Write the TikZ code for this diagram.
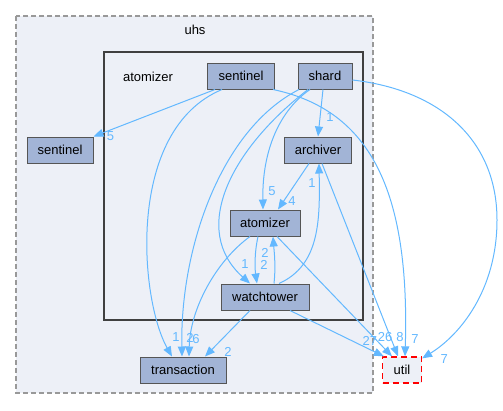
\documentclass[tikz,border=0pt]{standalone}
\usepackage{fontspec}
\setmainfont{Liberation Sans}
\usetikzlibrary{arrows.meta}
\definecolor{dirfill}{HTML}{A2B4D6}
\definecolor{dirline}{HTML}{555555}
\definecolor{clusterfill}{HTML}{EDF0F7}
\definecolor{clusterline}{HTML}{999999}
\definecolor{innerline}{HTML}{404040}
\definecolor{depblue}{HTML}{63B8FF}
\definecolor{extred}{HTML}{FF0000}

\begin{document}
\begin{tikzpicture}[
	x=1pt, y=-1pt
	,font=\fontsize{13}{15}\selectfont
	,n/.style={draw=dirline, fill=dirfill, line width=1pt, minimum height=26pt, inner sep=0pt}
	,ext/.style={draw=extred, fill=clusterfill, line width=1.3pt, dash pattern=on 6pt off 4pt, minimum height=26pt, inner sep=0pt}
	,dep/.style={draw=depblue, line width=1pt, -{Triangle[length=10pt,width=8pt]}}
	,lbl/.style={text=depblue, inner sep=0pt}
]
	\useasboundingbox (0,0) rectangle (503,410);

	\draw[clusterline, fill=clusterfill, line width=1.5pt, dash pattern=on 5pt off 3pt] (16,16) rectangle (373,393);
	\node (uhs) at (195,30) {uhs};
	\draw[innerline, fill=clusterfill, line width=2pt] (104,52) rectangle (363,320);
	\node (atomizerdir) at (148,77) {atomizer};

	\node[n, minimum width=67pt] (sentinelA) at (241,76) {sentinel};
	\node[n, minimum width=54pt] (shard) at (325,76) {shard};
	\node[n, minimum width=66pt] (sentinelB) at (60,150) {sentinel};
	\node[n, minimum width=67pt] (archiver) at (318,150) {archiver};
	\node[n, minimum width=70pt] (atomizer) at (265,223) {atomizer};
	\node[n, minimum width=88pt] (watchtower) at (265,297) {watchtower};
	\node[n, minimum width=86pt] (transaction) at (183,370) {transaction};
	\node[ext, minimum width=39pt] (util) at (402,370) {util};

	\draw[dep] ([xshift=-26pt]sentinelA.south) -- (sentinelB.north east)
		node[lbl, pos=1, xshift=17pt] {5};
	\draw[dep] ([xshift=-19pt]sentinelA.south) .. controls (125,130) and (140,300) .. ([xshift=-11pt]transaction.north)
		node[lbl, pos=1, xshift=4pt, yshift=19pt] {1};
	\draw[dep] ([xshift=32pt]sentinelA.south) .. controls (370,110) and (410,190) .. ([xshift=3pt]util.north)
		node[lbl, pos=1, xshift=10pt, yshift=17pt] {7};

	\draw[dep] ([xshift=-2pt]shard.south) -- (archiver.north)
		node[lbl, pos=1, xshift=12pt, yshift=19pt] {1};
	\draw[dep] ([xshift=-15pt]shard.south) .. controls (280,110) and (262,150) .. ([xshift=-2pt]atomizer.north)
		node[lbl, pos=1, xshift=9pt, yshift=18pt] {5};
	\draw[dep] ([xshift=-17pt]shard.south) .. controls (230,150) and (190,230) .. ([xshift=-15pt]watchtower.north)
		node[lbl, pos=1, xshift=-5pt, yshift=19pt] {1};
	\draw[dep] ([xshift=-26pt]shard.south) .. controls (220,130) and (180,250) .. ([xshift=-1pt]transaction.north)
		node[lbl, pos=1, xshift=8pt, yshift=19pt] {2};
	\draw[dep] ([yshift=-4pt]shard.east) .. controls (440,90) and (497,140) .. (497,220)
		.. controls (497,290) and (460,335) .. ([yshift=-2pt]util.north east)
		node[lbl, pos=1, xshift=22pt, yshift=-1pt] {7};

	\draw[dep] ([xshift=-9pt]archiver.south) -- ([xshift=13pt]atomizer.north)
		node[lbl, pos=1, xshift=14pt, yshift=8pt] {4};
	\draw[dep] ([xshift=4pt]archiver.south) -- ([xshift=-4pt]util.north)
		node[lbl, pos=1, xshift=2pt, yshift=19pt] {8};

	\draw[dep] ([xshift=-15pt]atomizer.south) .. controls (215,262) and (190,310) .. ([xshift=6pt]transaction.north)
		node[lbl, pos=1, xshift=7pt, yshift=17pt] {6};
	\draw[dep] ([xshift=-7pt]atomizer.south) .. controls (254,255) and (255,270) .. ([xshift=-8pt]watchtower.north)
		node[lbl, pos=1, xshift=7pt, yshift=19pt] {2};
	\draw[dep] ([xshift=12pt]atomizer.south) -- ([xshift=-10pt]util.north)
		node[lbl, pos=1, xshift=-7pt, yshift=19pt] {26};

	\draw[dep] ([xshift=9pt]watchtower.north) .. controls (276,265) and (274,250) .. ([xshift=8pt]atomizer.south)
		node[lbl, pos=1, xshift=-8pt, yshift=-16pt] {2};
	\draw[dep] ([xshift=14pt]watchtower.north) .. controls (320,265) and (320,220) .. ([xshift=1pt]archiver.south)
		node[lbl, pos=1, xshift=-7pt, yshift=-20pt] {1};
	\draw[dep] ([xshift=-15pt]watchtower.south) -- ([xshift=22pt]transaction.north)
		node[lbl, pos=1, xshift=23pt, yshift=5pt] {2};
	\draw[dep] ([xshift=25pt]watchtower.south) -- ([xshift=2pt]util.north west)
		node[lbl, pos=1, xshift=-14pt, yshift=15pt] {27};
\end{tikzpicture}
\end{document}
